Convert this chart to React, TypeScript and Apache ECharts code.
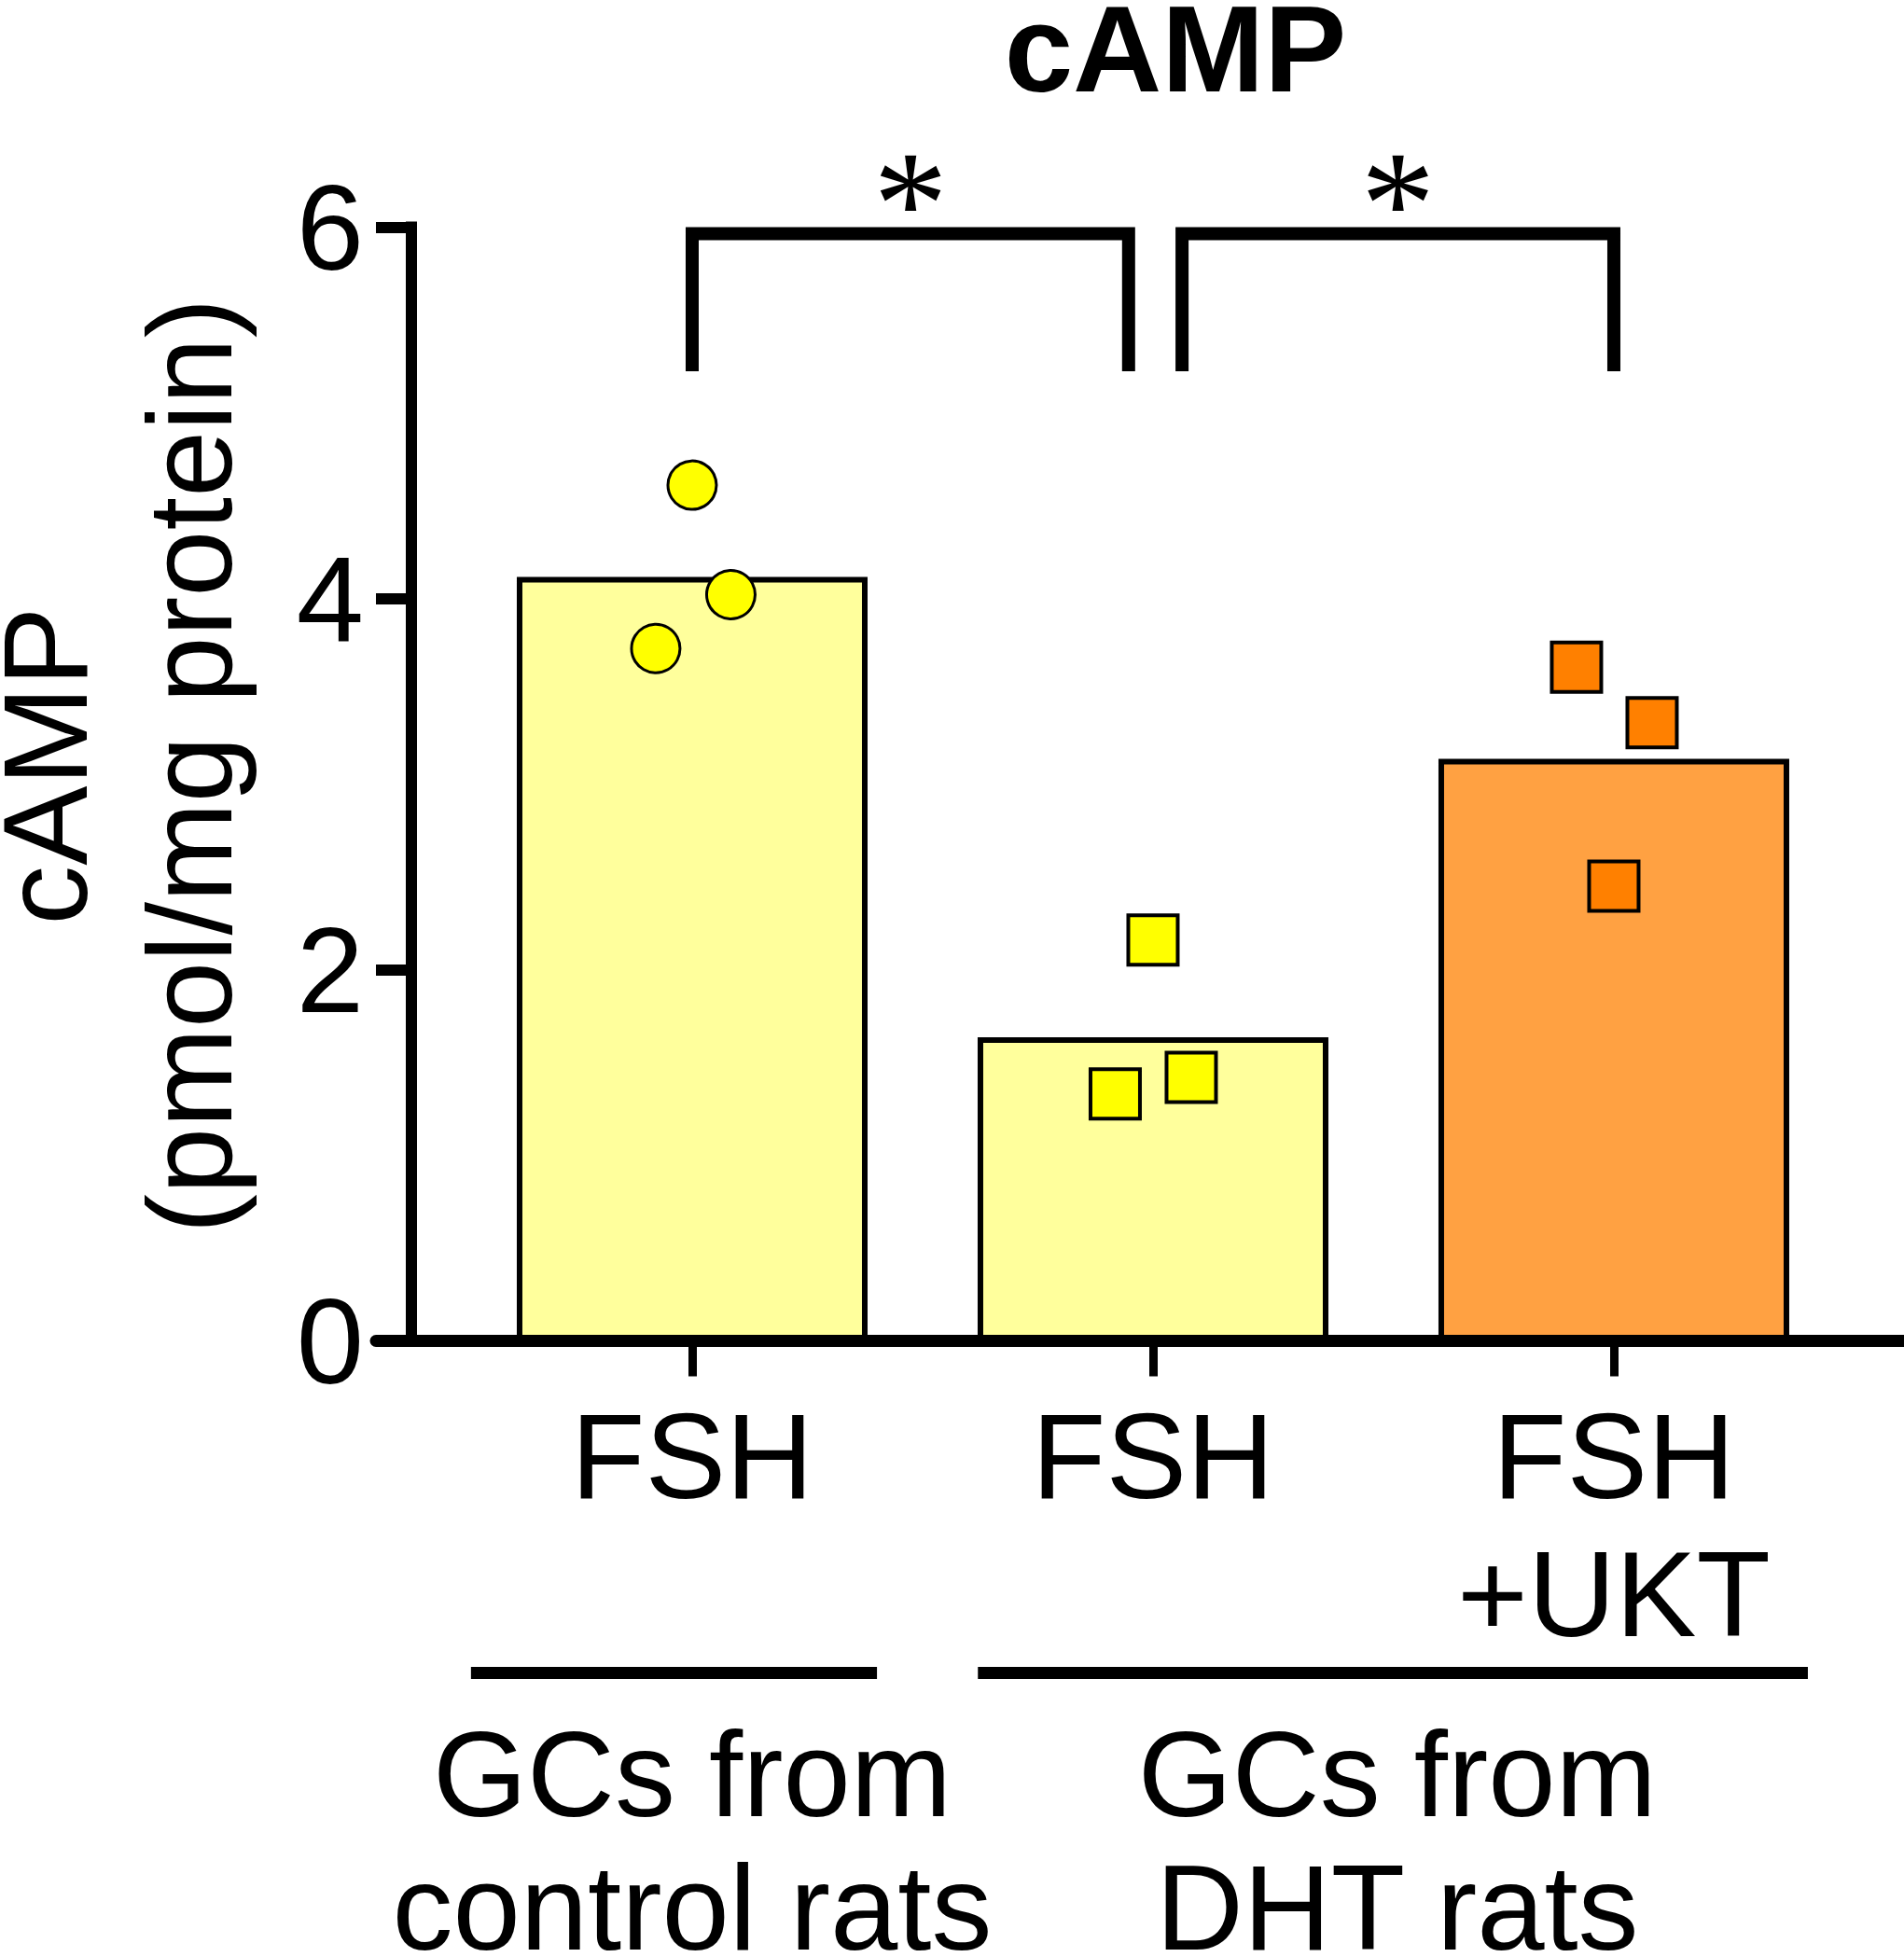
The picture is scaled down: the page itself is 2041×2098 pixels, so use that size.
import React, { useEffect, useRef } from "react";
import * as echarts from "echarts";

// ---------- data ----------
const categoryLabels = ["FSH", "FSH", "FSH\n+UKT"];
const barMeans = [4.1, 1.62, 3.12];
const barFills = ["#FFFF9C", "#FFFF9C", "#FFA142"];
const pointColors = ["#FFFF00", "#FFFF00", "#FF8000"];
const pointSymbols = ["circle", "rect", "rect"];
const pointSizes = [52, 53, 53];
const replicateValues = [
  [4.61, 4.02, 3.73],
  [2.16, 1.33, 1.42],
  [3.63, 3.33, 2.45],
];
const replicateJitter = [
  [0.0, 0.084, -0.079],
  [0.0, -0.082, 0.083],
  [-0.081, 0.083, 0.0],
];
const yTickValues = [0, 2, 4, 6];
const bracketStarts = [1.0, 2.063];
const bracketEnds = [1.947, 3.0];
const bracketMarks = ["*", "*"];
const groupLabelLines = [
  ["GCs from", "control rats"],
  ["GCs from", "DHT rats"],
];
const groupStarts = [0.52, 1.62];
const groupEnds = [1.401, 3.421];
const groupLabelCenters = [1.0, 2.53];
const yAxisTitleLines = ["cAMP", "(pmol/mg protein)"];

// ---------- layout (value-space positions of annotations) ----------
const X_MIN = 0.3138;
const X_MAX = 3.6296;
const BAR_WIDTH = 0.749;
const BRACKET_TOP = 5.965;
const BRACKET_LEG = 5.224;
const STAR_Y = 6.13;
const GROUP_LINE_Y = -1.789;
const GROUP_TEXT_Y = [-2.333, -3.052];
const FONT = "Liberation Sans";

export default function App() {
  const ref = useRef<HTMLDivElement>(null);

  useEffect(() => {
    document.body.style.margin = "0";
    if (!ref.current) return;
    const chart = echarts.init(ref.current, null, { renderer: "svg" });

    const pointData: any[] = [];
    replicateValues.forEach((vals, g) => {
      vals.forEach((v, j) => {
        pointData.push({
          value: [g + 1 + replicateJitter[g][j], v],
          symbol: pointSymbols[g],
          symbolSize: pointSizes[g],
          itemStyle: {
            color: pointColors[g],
            opacity: 1,
            borderColor: "#000",
            borderWidth: g === 0 ? 3 : 4,
          },
        });
      });
    });

    const option: any = {
      animation: false,
      backgroundColor: "#ffffff",
      textStyle: { fontFamily: FONT },
      grid: {
        left: 403,
        right: 0,
        top: 243.5,
        bottom: 660.5,
        containLabel: false,
        outerBoundsMode: "none",
      },
      xAxis: {
        type: "value",
        min: X_MIN,
        max: X_MAX,
        z: 10,
        splitLine: { show: false },
        axisLine: {
          show: true,
          onZero: true,
          lineStyle: { color: "#000", width: 13 },
        },
        axisTick: {
          show: true,
          customValues: [1, 2, 3],
          length: 38,
          lineStyle: { color: "#000", width: 9 },
        },
        axisLabel: {
          show: true,
          customValues: [1, 2, 3],
          margin: 49,
          fontSize: 130,
          lineHeight: 148,
          color: "#000",
          fontFamily: FONT,
          formatter: (v: number) => categoryLabels[Math.round(v) - 1] ?? "",
        },
      },
      yAxis: {
        type: "value",
        min: 0,
        max: 6,
        interval: 2,
        offset: -38,
        splitLine: { show: false },
        axisLine: {
          show: true,
          onZero: false,
          lineStyle: { color: "#000", width: 12, cap: "square" },
        },
        axisTick: {
          show: true,
          length: 38,
          lineStyle: { color: "#000", width: 12 },
        },
        axisLabel: {
          margin: 51,
          fontSize: 130,
          color: "#000",
          fontFamily: FONT,
          formatter: (v: number) => (yTickValues.indexOf(v) >= 0 ? String(v) : ""),
        },
      },
      graphic: [
        {
          type: "text",
          x: 1260,
          y: 52,
          style: {
            text: "cAMP",
            fontSize: 132,
            lineHeight: 100,
            fontWeight: "bold",
            fontFamily: FONT,
            fill: "#000",
            align: "center",
            verticalAlign: "middle",
          },
        },
        {
          type: "text",
          x: 48,
          y: 821,
          rotation: Math.PI / 2,
          style: {
            text: yAxisTitleLines[0],
            fontSize: 128,
            lineHeight: 92,
            fontFamily: FONT,
            fill: "#000",
            align: "center",
            verticalAlign: "middle",
          },
        },
        {
          type: "text",
          x: 203,
          y: 821,
          rotation: Math.PI / 2,
          style: {
            text: yAxisTitleLines[1],
            fontSize: 128,
            lineHeight: 150,
            fontFamily: FONT,
            fill: "#000",
            align: "center",
            verticalAlign: "middle",
          },
        },
      ],
      series: [
        {
          name: "mean",
          type: "custom",
          z: 2,
          data: barMeans.map((m, i) => [i + 1, m]),
          renderItem: (params: any, api: any) => {
            const x = api.value(0);
            const v = api.value(1);
            const tl = api.coord([x - BAR_WIDTH / 2, v]);
            const br = api.coord([x + BAR_WIDTH / 2, 0]);
            return {
              type: "rect",
              shape: { x: tl[0], y: tl[1], width: br[0] - tl[0], height: br[1] - tl[1] },
              style: { fill: barFills[params.dataIndex], stroke: "#000", lineWidth: 6 },
            };
          },
        },
        {
          name: "replicates",
          type: "scatter",
          z: 3,
          itemStyle: { opacity: 1 },
          data: pointData,
        },
        {
          name: "significance",
          type: "custom",
          z: 4,
          data: bracketStarts.map((s, i) => [s, bracketEnds[i]]),
          renderItem: (params: any, api: any) => {
            const i = params.dataIndex;
            const a = api.coord([bracketStarts[i], BRACKET_LEG]);
            const b = api.coord([bracketStarts[i], BRACKET_TOP]);
            const c = api.coord([bracketEnds[i], BRACKET_TOP]);
            const d = api.coord([bracketEnds[i], BRACKET_LEG]);
            const m = api.coord([(bracketStarts[i] + bracketEnds[i]) / 2, STAR_Y]);
            return {
              type: "group",
              children: [
                {
                  type: "polyline",
                  shape: { points: [a, b, c, d] },
                  style: { stroke: "#000", lineWidth: 14, fill: "none", lineJoin: "miter", lineCap: "butt" },
                },
                {
                  type: "text",
                  x: m[0],
                  y: m[1],
                  style: {
                    text: bracketMarks[i],
                    fontSize: 160,
                    fontFamily: "Liberation Serif",
                    fill: "#000",
                    align: "center",
                    verticalAlign: "middle",
                  },
                },
              ],
            };
          },
        },
        {
          name: "groups",
          type: "custom",
          z: 4,
          clip: false,
          data: groupStarts.map((s, i) => [s, groupEnds[i]]),
          renderItem: (params: any, api: any) => {
            const i = params.dataIndex;
            const p1 = api.coord([groupStarts[i], GROUP_LINE_Y]);
            const p2 = api.coord([groupEnds[i], GROUP_LINE_Y]);
            const children: any[] = [
              {
                type: "line",
                shape: { x1: p1[0], y1: p1[1], x2: p2[0], y2: p2[1] },
                style: { stroke: "#000", lineWidth: 13 },
              },
            ];
            groupLabelLines[i].forEach((line, k) => {
              const t = api.coord([groupLabelCenters[i], GROUP_TEXT_Y[k]]);
              children.push({
                type: "text",
                x: t[0],
                y: t[1],
                style: {
                  text: line,
                  fontSize: 130,
                  lineHeight: 100,
                  fontFamily: FONT,
                  fill: "#000",
                  align: "center",
                  verticalAlign: "middle",
                },
              });
            });
            return { type: "group", children };
          },
        },
      ],
    };

    chart.setOption(option);
    return () => {
      chart.dispose();
    };
  }, []);

  return <div ref={ref} style={{ width: 2041, height: 2098 }} />;
}
